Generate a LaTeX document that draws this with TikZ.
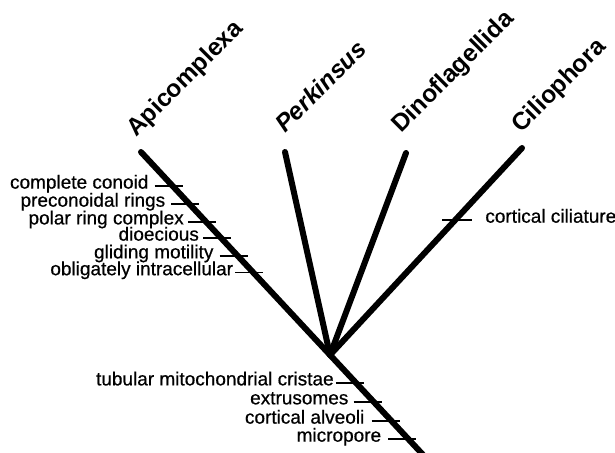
\documentclass[tikz,border=0pt]{standalone}
\usepackage{fontspec}
\setmainfont{Liberation Sans}
\newfontfamily\traitfont[FakeBold=0.6]{Liberation Sans}
\usetikzlibrary{positioning}
\usetikzlibrary{calc}

\tikzset{
  branch/.style={line width=6pt,line cap=round},
  tickmark/.style={line width=1.8pt},
  trait/.style={font=\traitfont\fontsize{19}{21}\selectfont,inner sep=0pt,anchor=mid east},
  taxon/.style={font=\fontsize{24.5}{27}\selectfont\bfseries,rotate=45,anchor=base west,inner sep=0pt}
}

\begin{document}
\begin{tikzpicture}[x=1pt,y=-1pt]
        \useasboundingbox (0,0) rectangle (615,452);
        % tree
        \coordinate (root) at (426,458);
        \coordinate (split) at (330,355);
        \coordinate (api) at (141,152);
        \coordinate (perk) at (285,152);
        \coordinate (dino) at (406,153);
        \coordinate (cilio) at (522,148);
        \draw[branch] (api) -- (root);
        \draw[branch] (split) -- (perk);
        \draw[branch] (split) -- (dino);
        \draw[branch] (split) -- (cilio);
        % taxa
        \node[taxon] (apiname) at (136,138) {Apicomplexa};
        \node[taxon] (perkname) at (285,134) {\itshape Perkinsus};
        \node[taxon] (dinoname) at (401,134) {Dinoflagellida};
        \node[taxon] (ciliname) at (521,134) {Ciliophora};
        % characters
        \path (api) -- (root)
          coordinate[pos=0.111] (a1) coordinate[pos=0.170] (a2)
          coordinate[pos=0.228] (a3) coordinate[pos=0.281] (a4)
          coordinate[pos=0.339] (a5) coordinate[pos=0.394] (a6)
          coordinate[pos=0.754] (b1) coordinate[pos=0.816] (b2)
          coordinate[pos=0.879] (b3) coordinate[pos=0.938] (b4);
        \path (cilio) -- (split) coordinate[pos=0.348] (c1);
        \begin{scope}[every path/.style={tickmark}]
        \draw ([xshift=-18pt]a1) -- ([xshift=10pt]a1);
        \draw ([xshift=-18pt]a2) -- ([xshift=10pt]a2);
        \draw ([xshift=-18pt]a3) -- ([xshift=10pt]a3);
        \draw ([xshift=-18pt]a4) -- ([xshift=10pt]a4);
        \draw ([xshift=-18pt]a5) -- ([xshift=10pt]a5);
        \draw ([xshift=-18pt]a6) -- ([xshift=10pt]a6);
        \draw ([xshift=-20pt]b1) -- ([xshift=8pt]b1);
        \draw ([xshift=-20pt]b2) -- ([xshift=8pt]b2);
        \draw ([xshift=-20pt]b3) -- ([xshift=8pt]b3);
        \draw ([xshift=-20pt]b4) -- ([xshift=8pt]b4);
        \draw ([xshift=-13pt]c1) -- ([xshift=17pt]c1);
        \end{scope}
        \node[trait] (conoid) at ([xshift=-24pt]a1) {complete conoid};
        \node[trait] (rings) at ([xshift=-24pt]a2) {preconoidal rings};
        \node[trait] (polar) at ([xshift=-22pt]a3) {polar ring complex};
        \node[trait] (dioec) at ([xshift=-22pt]a4) {dioecious};
        \node[trait] (gliding) at ([xshift=-24pt]a5) {gliding motility};
        \node[trait] (intra) at ([xshift=-20pt]a6) {obligately intracellular};
        \node[trait] (cristae) at ([xshift=-22pt]b1) {tubular mitochondrial cristae};
        \node[trait] (extru) at ([xshift=-25pt]b2) {extrusomes};
        \node[trait] (alveoli) at ([xshift=-27pt]b3) {cortical alveoli};
        \node[trait] (micro) at ([xshift=-27pt]b4) {micropore};
        \node[trait,anchor=mid west] (cilia) at ([xshift=30pt]c1) {cortical ciliature};
\end{tikzpicture}
\end{document}
